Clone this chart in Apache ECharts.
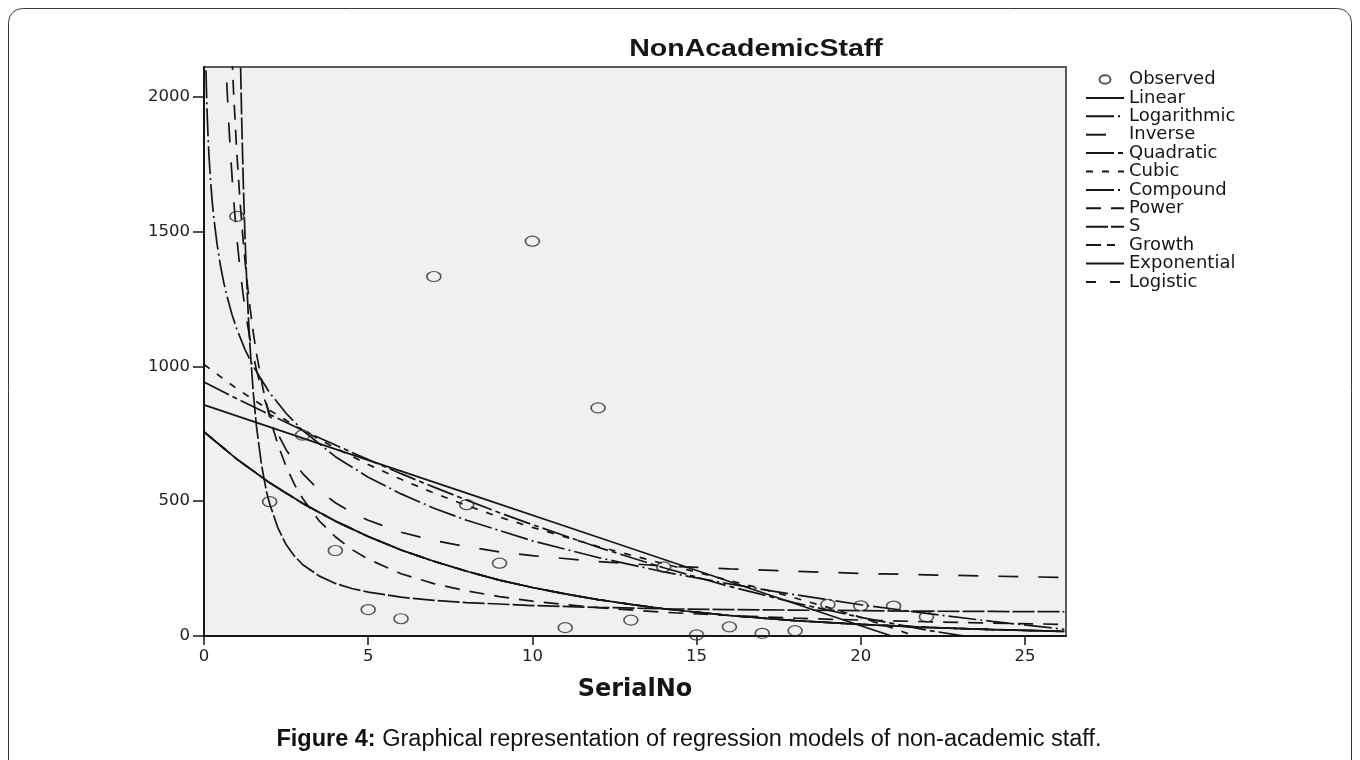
<!DOCTYPE html>
<html>
<head>
<meta charset="utf-8">
<script src="https://cdn.jsdelivr.net/npm/echarts@6/dist/echarts.min.js"></script>
<style>
  html, body { margin: 0; padding: 0; background: #ffffff; }
  #chart { width: 1360px; height: 760px; }
</style>
</head>
<body>
<div id="chart"></div>
<script>
// ---------- data ----------
const titleText = 'NonAcademicStaff';
const xName = 'SerialNo';
const captionBold = 'Figure 4:';
const captionRest = ' Graphical representation of regression models of non-academic staff.';

const xTicks = [0, 5, 10, 15, 20, 25];
const yTicks = [0, 500, 1000, 1500, 2000];

const observedX = [1, 2, 3, 4, 5, 6, 7, 8, 9, 10, 11, 12, 13, 14, 15, 16, 17, 18, 19, 20, 21, 22];
const observedY = [1556, 498, 745, 317, 98, 64, 1333, 487, 270, 1464, 31, 846, 59, 256, 4, 34, 10, 20, 117, 112, 111, 71];

const linearFit = [[0, 857], [4, 693], [8, 530], [12, 366], [16, 202], [20, 38], [22, -43], [26.2, -215]];
const logarithmicFit = [[0.06, 2098], [0.08, 1999], [0.1, 1924], [0.125, 1847], [0.15, 1785], [0.2, 1687], [0.25, 1611], [0.3, 1549], [0.4, 1451], [0.5, 1374], [0.6, 1312], [0.7, 1260], [0.85, 1193], [1, 1138], [1.25, 1062], [1.5, 1000], [2, 902], [2.5, 826], [3, 763], [4, 665], [5, 589], [6, 527], [7, 474], [8, 429], [10, 353], [12, 291], [14, 238], [16, 193], [18, 153], [20, 116], [22, 84], [24, 54], [26.2, 25]];
const inverseFit = [[0.6, 2349], [0.65, 2181], [0.7, 2037], [0.75, 1912], [0.8, 1803], [0.9, 1621], [1, 1476], [1.1, 1357], [1.2, 1258], [1.3, 1174], [1.4, 1102], [1.6, 985], [1.8, 894], [2, 822], [2.25, 749], [2.5, 691], [3, 603], [3.5, 541], [4, 494], [4.5, 458], [5, 429], [6, 385], [7, 354], [8, 331], [9, 312], [10, 298], [12, 276], [14, 260], [16, 249], [18, 240], [20, 232], [22, 227], [24, 222], [26.2, 217]];
const quadraticFit = [[0, 942], [1, 880], [2, 821], [3, 763], [4, 708], [5, 654], [6, 602], [7, 552], [8, 504], [9, 457], [10, 413], [12, 329], [14, 253], [16, 184], [18, 123], [20, 69], [22, 22], [24, -17], [26.2, -52]];
const cubicFit = [[0, 1007], [1, 917], [2, 837], [3, 763], [4, 697], [5, 636], [6, 581], [7, 530], [8, 484], [9, 441], [10, 403], [12, 332], [14, 268], [16, 206], [17, 175], [18, 141], [19, 106], [20, 69], [21, 28], [22, -16], [24, -116], [26.2, -250]];
const compoundFit = [[0, 757], [1, 656], [2, 568], [3, 492], [4, 426], [5, 369], [6, 319], [7, 277], [8, 240], [9, 207], [10, 180], [11, 156], [12, 135], [13, 117], [14, 101], [16, 76], [18, 57], [20, 43], [22, 32], [24, 24], [26.2, 17]];
const powerFit = [[0.85, 2155], [0.9, 2019], [1, 1790], [1.1, 1607], [1.2, 1454], [1.3, 1327], [1.4, 1219], [1.5, 1126], [1.6, 1046], [1.8, 915], [2, 811], [2.25, 710], [2.5, 629], [2.75, 563], [3, 511], [3.5, 428], [4, 368], [4.5, 321], [5, 285], [6, 231], [7, 194], [8, 167], [9, 146], [10, 129], [12, 105], [14, 88], [16, 76], [18, 66], [20, 59], [22, 53], [24, 48], [26.2, 43]];
const sFit = [[1.1, 2201], [1.15, 1903], [1.2, 1666], [1.25, 1476], [1.3, 1317], [1.35, 1185], [1.4, 1076], [1.5, 903], [1.6, 775], [1.75, 636], [1.9, 537], [2, 490], [2.25, 401], [2.5, 339], [2.75, 297], [3, 265], [3.5, 223], [4, 195], [4.5, 176], [5, 163], [6, 144], [7, 132], [8, 124], [10, 113], [12, 106], [14, 101], [16, 98], [18, 96], [20, 94], [22, 92], [24, 91], [26.2, 90]];
const growthFit = [[0, 757], [1, 656], [2, 568], [3, 492], [4, 426], [5, 369], [6, 319], [7, 277], [8, 240], [9, 207], [10, 180], [11, 156], [12, 135], [13, 117], [14, 101], [16, 76], [18, 57], [20, 43], [22, 32], [24, 24], [26.2, 17]];
const exponentialFit = [[0, 757], [1, 656], [2, 568], [3, 492], [4, 426], [5, 369], [6, 319], [7, 277], [8, 240], [9, 207], [10, 180], [11, 156], [12, 135], [13, 117], [14, 101], [16, 76], [18, 57], [20, 43], [22, 32], [24, 24], [26.2, 17]];
const logisticFit = [[0, 757], [1, 656], [2, 568], [3, 492], [4, 426], [5, 369], [6, 319], [7, 277], [8, 240], [9, 207], [10, 180], [11, 156], [12, 135], [13, 117], [14, 101], [16, 76], [18, 57], [20, 43], [22, 32], [24, 24], [26.2, 17]];

// ---------- styling ----------
const INK = '#161616';
const LW = 1.7;
const spss = 'DejaVu Sans';
const arial = 'Liberation Sans, Arial, sans-serif';

const fits = [
  { name: 'Linear', data: linearFit, dash: 'solid' },
  { name: 'Logarithmic', data: logarithmicFit, dash: [28, 4, 2, 4] },
  { name: 'Inverse', data: inverseFit, dash: [20, 20] },
  { name: 'Quadratic', data: quadraticFit, dash: [28, 4, 5, 4] },
  { name: 'Cubic', data: cubicFit, dash: [7, 9] },
  { name: 'Compound', data: compoundFit, dash: [28, 4, 2, 4] },
  { name: 'Power', data: powerFit, dash: [15, 10] },
  { name: 'S', data: sFit, dash: [22, 3] },
  { name: 'Growth', data: growthFit, dash: [15, 6, 8, 12] },
  { name: 'Exponential', data: exponentialFit, dash: 'solid' },
  { name: 'Logistic', data: logisticFit, dash: [10, 14] }
];

const observedData = observedX.map((x, i) => [x, observedY[i]]);

const series = [{
  name: 'Observed',
  type: 'scatter',
  data: observedData,
  symbol: 'circle',
  symbolSize: [14, 10],
  itemStyle: { color: 'rgba(0,0,0,0)', borderColor: '#2a2a2a', borderWidth: 1.4 },
  z: 5,
  silent: true
}];

fits.forEach(f => {
  series.push({
    name: f.name,
    type: 'line',
    data: f.data,
    symbol: 'none',
    showSymbol: false,
    smooth: false,
    clip: true,
    lineStyle: { color: INK, width: LW, type: f.dash },
    itemStyle: { color: INK },
    z: 3,
    silent: true
  });
});

const hiddenSymbol = { color: 'rgba(0,0,0,0)', borderColor: 'rgba(0,0,0,0)', borderWidth: 0, opacity: 0 };

const legendData = [{
  name: 'Observed',
  icon: 'path://M0,0M38,14M13.5,7a5.5,4.3 0 1,0 11,0a5.5,4.3 0 1,0 -11,0z'
}].concat(fits.map(f => ({ name: f.name, itemStyle: hiddenSymbol })));

const chart = echarts.init(document.getElementById('chart'), null, { renderer: 'canvas' });

chart.setOption({
  animation: false,
  backgroundColor: '#ffffff',
  grid: {
    left: 204, top: 67, width: 862, height: 569,
    show: true, backgroundColor: '#f0f0f0', borderColor: '#5a5a5a', borderWidth: 2,
    containLabel: false
  },
  xAxis: {
    type: 'value', min: 0, max: 26.25,
    name: xName, nameLocation: 'middle', nameGap: 42,
    nameTextStyle: { fontFamily: spss, fontWeight: 'bold', fontSize: 24, color: INK },
    axisLine: { show: true, onZero: false, lineStyle: { color: INK, width: 2 } },
    axisTick: { show: true, length: 9, customValues: xTicks, lineStyle: { color: INK, width: 1.5 } },
    axisLabel: { customValues: xTicks, margin: 12, fontFamily: spss, fontSize: 16.5, color: '#222',
      formatter: v => String(v) },
    splitLine: { show: false }
  },
  yAxis: {
    type: 'value', min: 0, max: 2110,
    axisLine: { show: true, onZero: false, lineStyle: { color: INK, width: 2 } },
    axisTick: { show: true, length: 11, customValues: yTicks, lineStyle: { color: INK, width: 1.5 } },
    axisLabel: { customValues: yTicks, margin: 14, fontFamily: spss, fontSize: 16.5, color: '#222',
      formatter: v => String(v) },
    splitLine: { show: false }
  },
  legend: {
    orient: 'vertical',
    left: 1085, top: 70.5,
    padding: 0,
    itemWidth: 38, itemHeight: 14, itemGap: 0.4,
    selectedMode: false,
    textStyle: { fontFamily: spss, fontSize: 18, color: INK, lineHeight: 14 },
    data: legendData
  },
  graphic: [
    {
      type: 'rect',
      shape: { x: 8.5, y: 8.5, width: 1343, height: 790, r: 14 },
      style: { fill: 'none', stroke: '#3a3a3a', lineWidth: 1 },
      silent: true, z: -10
    },
    {
      type: 'text',
      x: 756, y: 50, scaleX: 1.24,
      style: {
        text: titleText,
        fontFamily: arial, fontWeight: 'bold', fontSize: 23,
        fill: INK, align: 'center', verticalAlign: 'middle'
      },
      silent: true
    },
    {
      type: 'text',
      x: 689, y: 740,
      style: {
        text: '{b|' + captionBold + '}' + captionRest,
        fontFamily: arial, fontSize: 23.5,
        fill: '#111', align: 'center', verticalAlign: 'middle',
        rich: { b: { fontFamily: arial, fontWeight: 'bold', fontSize: 23.5, fill: '#111' } }
      },
      silent: true
    }
  ],
  series: series
});
</script>
</body>
</html>
